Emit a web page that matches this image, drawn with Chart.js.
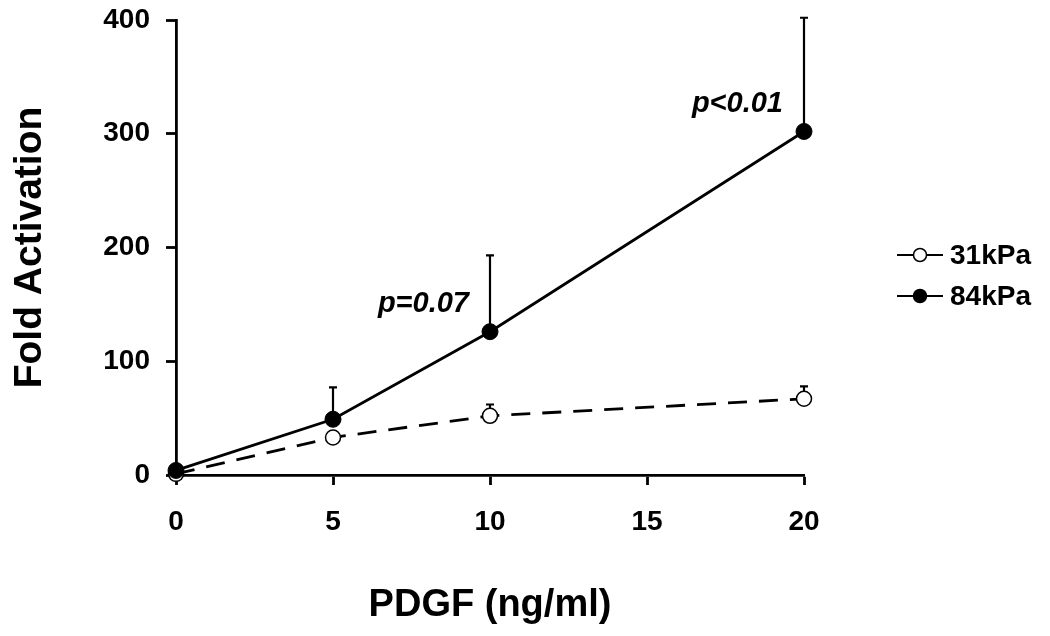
<!DOCTYPE html>
<html>
<head>
<meta charset="utf-8">
<script src="https://cdn.jsdelivr.net/npm/chart.js@4.4.1/dist/chart.umd.min.js"></script>
<style>
    body { margin: 0; background: #fff; }
</style>
</head>
<body>
<canvas id="myChart" width="1050" height="636"></canvas>
<script>
// dose of PDGF (ng/ml)
var doses = [0, 5, 10, 20];

// 31kPa substrate
var soft = [1, 33, 52, 67];
var softErr = [0, 3, 10, 11];

// 84kPa substrate
var stiff = [4, 49, 126, 302];
var stiffErr = [0, 28, 67, 100];

var xTicks = [0, 5, 10, 15, 20];
var yTicks = [0, 100, 200, 300, 400];

// p values shown next to the 84kPa points
var pLabels = ["", "", "p=0.07", "p<0.01"];

var fontFam = "'Liberation Sans', Arial, sans-serif";

function toPoints(ys) {
    var pts = [];
    for (let i in doses) {
        pts.push({ x: doses[i], y: ys[i] });
    }
    return pts;
}

// error bars (upper only) drawn under the markers
var errorBars = {
    id: 'errorBars',
    beforeDatasetsDraw: function (chart) {
        var ctx = chart.ctx;
        var xs = chart.scales.x;
        var ys = chart.scales.y;
        ctx.save();
        ctx.strokeStyle = '#000';
        ctx.lineWidth = 2.2;
        chart.data.datasets.forEach(function (ds) {
            for (let i in ds.data) {
                let e = ds.errors[i];
                if (!e) continue;
                let px = xs.getPixelForValue(ds.data[i].x);
                let y0 = ys.getPixelForValue(ds.data[i].y);
                let y1 = ys.getPixelForValue(ds.data[i].y + e);
                ctx.beginPath();
                ctx.moveTo(px, y0);
                ctx.lineTo(px, y1);
                ctx.moveTo(px - 4, y1);
                ctx.lineTo(px + 4, y1);
                ctx.stroke();
            }
        });
        ctx.restore();
    }
};

// p value annotations
var pText = {
    id: 'pText',
    afterDatasetsDraw: function (chart) {
        var ctx = chart.ctx;
        var xs = chart.scales.x;
        var ys = chart.scales.y;
        ctx.save();
        ctx.font = "italic bold 29px " + fontFam;
        ctx.fillStyle = '#000';
        ctx.textAlign = 'right';
        ctx.textBaseline = 'alphabetic';
        for (let i in pLabels) {
            if (!pLabels[i]) continue;
            let px = xs.getPixelForValue(doses[i]) - 21;
            let py = ys.getPixelForValue(stiff[i] + 17);
            ctx.fillText(pLabels[i], px, py);
        }
        ctx.restore();
    }
};

// legend on the right: line with marker, then label
var sideLegend = {
    id: 'sideLegend',
    afterDraw: function (chart) {
        var ctx = chart.ctx;
        var area = chart.chartArea;
        var items = chart.data.datasets.slice().sort(function (a, b) { return b.order - a.order; });
        ctx.save();
        ctx.font = "bold 28px " + fontFam;
        ctx.textBaseline = 'middle';
        ctx.textAlign = 'left';
        let x0 = area.right + 93;
        let yy = [255, 296];
        items.forEach(function (ds, k) {
            let y = yy[k];
            ctx.strokeStyle = '#000';
            ctx.lineWidth = 2.2;
            ctx.setLineDash([]);
            ctx.beginPath();
            ctx.moveTo(x0, y);
            ctx.lineTo(x0 + 46, y);
            ctx.stroke();
            ctx.beginPath();
            ctx.arc(x0 + 23, y, 6.5, 0, Math.PI * 2);
            ctx.fillStyle = ds.pointBackgroundColor;
            ctx.fill();
            ctx.lineWidth = 1.5;
            ctx.stroke();
            ctx.fillStyle = '#000';
            ctx.fillText(ds.label, x0 + 53, y + 1);
        });
        ctx.restore();
    }
};

var ctx = document.getElementById('myChart').getContext('2d');
var myChart = new Chart(ctx, {
    type: 'line',
    data: {
        datasets: [{
            label: '31kPa',
            data: toPoints(soft),
            errors: softErr,
            borderColor: '#000',
            borderWidth: 2.8,
            borderDash: [19, 12],
            pointRadius: 7.5,
            pointBorderWidth: 1.5,
            pointBackgroundColor: '#fff',
            pointBorderColor: '#000',
            order: 2,
            clip: false
        }, {
            label: '84kPa',
            data: toPoints(stiff),
            errors: stiffErr,
            borderColor: '#000',
            borderWidth: 2.8,
            pointRadius: 8,
            pointBorderWidth: 1,
            pointBackgroundColor: '#000',
            pointBorderColor: '#000',
            order: 1,
            clip: false
        }]
    },
    options: {
        responsive: false,
        animation: false,
        layout: {
            padding: { top: 20, right: 246, left: 0, bottom: 0 }
        },
        plugins: {
            legend: { display: false },
            tooltip: { enabled: false }
        },
        scales: {
            x: {
                type: 'linear',
                min: 0,
                max: 20,
                afterBuildTicks: function (scale) {
                    scale.ticks = xTicks.map(function (v) { return { value: v }; });
                },
                afterFit: function (scale) {
                    scale.height = 161;
                    scale.paddingLeft = 0;
                    scale.paddingRight = 0;
                },
                grid: {
                    drawOnChartArea: false,
                    tickLength: 10,
                    tickColor: '#000',
                    tickWidth: 2.8
                },
                border: { display: true, color: '#000', width: 2.8 },
                ticks: {
                    color: '#000',
                    padding: 20,
                    maxRotation: 0,
                    font: { family: fontFam, size: 28, weight: 'bold' }
                },
                title: {
                    display: true,
                    text: 'PDGF (ng/ml)',
                    color: '#000',
                    padding: { top: 0, bottom: 8 },
                    font: { family: fontFam, size: 38, weight: 'bold' }
                }
            },
            y: {
                min: 0,
                max: 400,
                afterBuildTicks: function (scale) {
                    scale.ticks = yTicks.map(function (v) { return { value: v }; });
                },
                afterFit: function (scale) {
                    scale.width = 176;
                    scale.paddingTop = 0;
                    scale.paddingBottom = 0;
                },
                grid: {
                    drawOnChartArea: false,
                    tickLength: 10,
                    tickColor: '#000',
                    tickWidth: 2.8
                },
                border: { display: true, color: '#000', width: 2.8 },
                ticks: {
                    color: '#000',
                    padding: 16,
                    font: { family: fontFam, size: 28, weight: 'bold' }
                },
                title: {
                    display: true,
                    text: 'Fold Activation',
                    color: '#000',
                    padding: { top: 7, bottom: 0 },
                    font: { family: fontFam, size: 39, weight: 'bold' }
                }
            }
        }
    },
    plugins: [errorBars, pText, sideLegend]
});
</script>
</body>
</html>
